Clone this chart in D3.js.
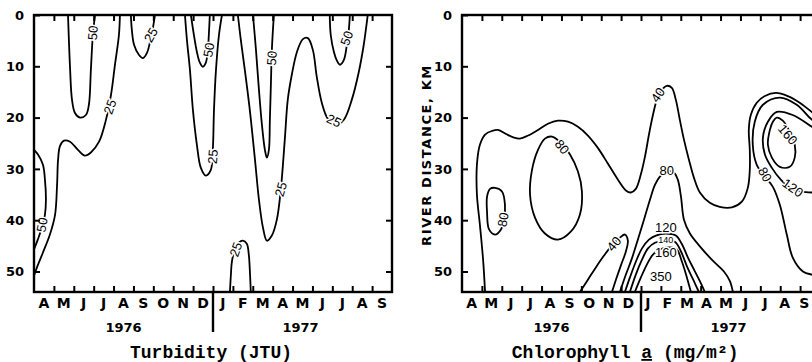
<!DOCTYPE html>
<html>
<head>
<meta charset="utf-8">
<script src="https://cdn.jsdelivr.net/npm/d3@7"></script>
<style>
  html, body { margin: 0; padding: 0; background: #fff; }
  svg { display: block; }
</style>
</head>
<body>
<svg id="chart" width="812" height="362"></svg>
<script>
// months April 1976 .. September 1977
const months = ['A','M','J','J','A','S','O','N','D','J','F','M','A','M','J','J','A','S'];
const depthTicks = [0, 10, 20, 30, 40, 50];
const maxDepth = 54;
const yearLabels = [{ text: '1976', m: 4.5 }, { text: '1977', m: 13.4 }];
const yearBreak = 9; // between D and J

// contour lines, points are [month index, river km]
const turbidityLines = [
  { level: 50, pts: [[1.71,0],[1.81,10.1],[1.91,16.5],[2.06,19.1],[2.31,20.0],[2.61,19.5],[2.76,17.5],[2.86,10.7],[2.96,3.9],[3.07,0]] },
  { level: 25, pts: [[4.32,0],[4.27,3.9],[4.07,9.7],[3.87,15.6],[3.62,20.4],[3.27,24.7],[2.86,26.8],[2.56,27.4],[2.21,26.3],[1.81,24.7],[1.51,24.5],[1.31,25.5],[1.21,28.2],[1.16,33.1],[1.06,38.9],[0.80,42.8],[0.45,46.3],[0.15,49.2],[0,50.8]] },
  { level: 50, pts: [[0,26.3],[0.2,27.2],[0.45,29.2],[0.55,32.1],[0.6,36],[0.55,38.9],[0.4,41.4],[0.2,43.7],[0,45.7]] },
  { level: 25, pts: [[4.87,0],[4.92,2.9],[5.03,5.8],[5.28,7.8],[5.48,8.4],[5.68,7.4],[5.83,5.3],[5.98,2.5],[6.08,0]] },
  { level: 25, pts: [[7.59,0],[7.69,4.9],[7.84,10.7],[7.99,18.5],[8.19,25.3],[8.39,29.8],[8.64,31.3],[8.89,30.2],[8.99,26.3],[9.05,18.5],[9.15,10.7],[9.30,3.9],[9.45,0]] },
  { level: 50, pts: [[7.89,0],[8.04,3.9],[8.19,7.2],[8.34,9.3],[8.49,10.1],[8.64,9.3],[8.74,6.8],[8.79,3.9],[8.84,0]] },
  { level: 25, pts: [[10.25,0],[10.40,4.9],[10.60,10.7],[10.85,18.5],[11.11,28.2],[11.31,36.0],[11.51,41.4],[11.71,44.0],[11.96,43.0],[12.21,39.9],[12.41,34.0],[12.61,24.3],[12.76,16.5],[12.96,11.7],[13.22,7.2],[13.52,4.7],[13.77,4.5],[14.02,6.8],[14.22,12.1],[14.47,17.1],[14.77,20.2],[15.18,21.4],[15.58,20.4],[15.98,16.5],[16.33,11.1],[16.58,5.8],[16.78,0]] },
  { level: 50, pts: [[11.01,0],[11.16,6.8],[11.31,14.6],[11.46,21.4],[11.61,26.3],[11.71,27.8],[11.81,26.3],[11.86,20.4],[11.91,13.6],[11.96,6.8],[12.06,0]] },
  { level: 50, pts: [[14.87,0],[14.92,3.9],[15.08,7.2],[15.23,8.9],[15.38,9.7],[15.58,8.75],[15.73,5.8],[15.83,2.9],[15.88,0]] },
  { level: 25, pts: [[9.85,54],[9.90,50.6],[9.95,48.1],[10.10,45.7],[10.30,44.4],[10.50,44.0],[10.70,44.6],[10.80,46.7],[10.85,49.6],[10.90,54]] }
];

const turbidityLabels = [
  { text: '50', m: 2.96, km: 3.5, rot: -85 },
  { text: '25', m: 3.82, km: 17.9, rot: -70 },
  { text: '25', m: 5.88, km: 3.9, rot: -60 },
  { text: '50', m: 0.40, km: 40.9, rot: -80 },
  { text: '50', m: 8.79, km: 6.8, rot: -80 },
  { text: '25', m: 8.99, km: 27.6, rot: -85 },
  { text: '50', m: 11.96, km: 8.4, rot: -85 },
  { text: '25', m: 12.41, km: 34.0, rot: -75 },
  { text: '25', m: 15.08, km: 20.6, rot: 25 },
  { text: '50', m: 15.73, km: 4.5, rot: -70 },
  { text: '25', m: 10.15, km: 45.7, rot: -70 }
];

const chlorophyllLines = [
  { level: 40, pts: [[1.16,54],[1.06,47.7],[0.90,40.9],[0.75,35.0],[0.75,29.2],[0.90,25.3],[1.16,23.3],[1.51,22.6],[1.81,22.4],[2.21,23.2],[2.61,23.9],[2.91,24.1],[3.32,23.5],[3.82,22.4],[4.32,21.2],[4.82,20.6],[5.33,20.8],[5.83,21.8],[6.33,23.5],[6.83,25.9],[7.34,29.0],[7.84,32.1],[8.24,34.2],[8.49,34.6],[8.74,33.9],[8.99,31.1],[9.20,27.6],[9.40,23.3],[9.60,19.5],[9.80,16.5],[10.05,14.6],[10.30,13.8],[10.55,14.2],[10.75,16.5],[10.95,20.4],[11.16,24.3],[11.41,28.2],[11.66,31.7],[11.96,34.6],[12.46,36.6],[12.96,37.4],[13.57,37.5],[14.07,36.4],[14.37,33.7],[14.47,30.2],[14.47,26.3],[14.42,22.4],[14.52,19.5],[14.82,17.1],[15.23,15.8],[15.78,15.2],[16.38,15.8],[16.98,17.1],[17.59,18.9],[18.1,20.2]] },
  { level: 80, closed: true, pts: [[1.66,33.7],[2.01,34.4],[2.16,37.0],[2.11,39.9],[1.96,41.8],[1.66,42.8],[1.36,41.8],[1.26,38.5],[1.26,35.4],[1.41,33.9]] },
  { level: 80, closed: true, pts: [[4.52,23.7],[4.92,24.7],[5.43,27.2],[5.83,30.5],[6.03,34.4],[5.93,38.9],[5.48,42.2],[4.82,43.8],[4.17,42.6],[3.67,39.5],[3.42,35.0],[3.52,30.2],[3.82,26.3],[4.17,24.1]] },
  { level: 40, pts: [[5.93,54],[6.33,51.6],[6.73,49.2],[7.14,46.9],[7.54,44.9],[7.94,43.4],[8.19,42.8],[8.34,44.0],[8.24,46.1],[7.99,48.8],[7.74,51.6],[7.54,54]] },
  { level: 80, pts: [[7.94,54],[8.24,50.6],[8.54,47.5],[8.84,43.8],[9.15,39.9],[9.45,36.0],[9.70,33.1],[9.95,31.5],[10.30,30.5],[10.65,30.7],[10.85,32.1],[11.01,35.4],[11.16,39.9],[11.46,42.6],[11.96,45.1],[12.61,47.9],[13.17,50.0],[13.47,51.9],[13.62,54]] },
  { level: 120, pts: [[8.19,54],[8.44,51.2],[8.74,48.1],[9.05,45.5],[9.40,43.8],[9.75,43.0],[10.25,42.6],[10.75,43.0],[11.06,44.7],[11.36,47.3],[11.66,49.6],[11.96,51.9],[12.21,54]] },
  { level: 140, pts: [[8.44,54],[8.74,50.6],[9.05,47.7],[9.35,45.5],[9.70,44.4],[10.20,44.0],[10.70,44.2],[11.01,46.1],[11.31,49.0],[11.66,51.9],[11.91,54]] },
  { level: 160, pts: [[8.69,54],[8.99,51.2],[9.30,48.6],[9.60,46.7],[9.95,45.7],[10.45,45.3],[10.80,45.7],[11.06,48.1],[11.31,51.2],[11.51,54]] },
  { level: 80, pts: [[18.1,21.6],[17.59,20.4],[16.83,17.5],[15.98,16.1],[15.13,17.5],[14.72,20.8],[14.62,25.3],[14.82,29.2],[15.23,31.5],[15.63,33.5],[15.98,37.0],[16.33,42.8],[16.63,47.3],[17.14,50.0],[17.59,50.6],[18.1,50.8]] },
  { level: 120, pts: [[18.1,23.2],[17.59,21.8],[16.63,19.5],[15.83,18.9],[15.38,20.8],[15.13,23.9],[15.23,27.2],[15.58,29.8],[16.03,32.1],[16.48,33.7],[16.98,34.4],[17.59,34.6],[18.1,34.7]] },
  { level: 160, closed: true, pts: [[15.83,20.0],[16.13,20.6],[16.43,22.4],[16.73,25.3],[16.73,27.8],[16.48,29.6],[15.98,29.6],[15.58,27.8],[15.38,25.3],[15.48,22.4],[15.63,20.8]] }
];

const chlorophyllLabels = [
  { text: '40', m: 9.85, km: 15.6, rot: -55 },
  { text: '80', m: 5.03, km: 25.7, rot: 50 },
  { text: '80', m: 2.06, km: 39.9, rot: -80 },
  { text: '40', m: 7.64, km: 44.6, rot: -50 },
  { text: '80', m: 10.30, km: 30.3, rot: 0 },
  { text: '120', m: 10.25, km: 41.4, rot: 0 },
  { text: '140', m: 10.25, km: 43.8, rot: 0, small: true },
  { text: '160', m: 10.25, km: 46.3, rot: 0 },
  { text: '350', m: 10.0, km: 51.0, rot: 0 },
  { text: '160', m: 16.38, km: 23.3, rot: 50 },
  { text: '80', m: 15.23, km: 31.1, rot: 60 },
  { text: '120', m: 16.63, km: 33.7, rot: 35 }
];

const svg = d3.select('#chart');
const sansBold = "'DejaVu Sans', 'Liberation Sans', sans-serif";
const labelFont = "'Liberation Sans', Arial, sans-serif";
const typeFont = "'Liberation Mono', 'Courier New', monospace";

const y = d3.scaleLinear().domain([0, maxDepth]).range([15, 292]);

function drawPanel(cfg) {
  const x = d3.scaleLinear().domain([0, months.length]).range([cfg.left, cfg.left + 358]);
  // month letters sit a little tighter on the right panel so the last one stays in view
  const band = d3.scaleBand().domain(d3.range(months.length)).range([cfg.left, cfg.left + cfg.labelWidth]);
  const g = svg.append('g').attr('class', 'panel-' + cfg.id);

  // clip contours to the plot area
  svg.append('clipPath').attr('id', 'clip-' + cfg.id)
    .append('rect')
    .attr('x', x(0)).attr('y', y(0))
    .attr('width', x(months.length) - x(0))
    .attr('height', y(maxDepth) - y(0));

  const line = d3.line()
    .x(d => x(d[0]))
    .y(d => y(d[1]))
    .curve(d3.curveCatmullRom.alpha(0.5));
  const closedLine = d3.line()
    .x(d => x(d[0]))
    .y(d => y(d[1]))
    .curve(d3.curveCatmullRomClosed.alpha(0.5));

  const plot = g.append('g').attr('clip-path', `url(#clip-${cfg.id})`);
  plot.selectAll('path.contour')
    .data(cfg.lines)
    .enter()
    .append('path')
    .attr('class', 'contour')
    .attr('d', d => (d.closed ? closedLine : line)(d.pts))
    .attr('fill', 'none')
    .attr('stroke', '#000')
    .attr('stroke-width', 1.8)
    .attr('stroke-linejoin', 'round');

  // contour labels with white halo to break the line
  plot.selectAll('text.clabel')
    .data(cfg.labels)
    .enter()
    .append('text')
    .attr('class', 'clabel')
    .attr('transform', d => `translate(${x(d.m)},${y(d.km)}) rotate(${d.rot})`)
    .attr('text-anchor', 'middle')
    .attr('dominant-baseline', 'central')
    .attr('font-family', labelFont)
    .attr('font-size', d => d.small ? 9 : 13)
    .attr('fill', '#000')
    .attr('stroke', '#fff')
    .attr('stroke-width', 3)
    .attr('paint-order', 'stroke')
    .text(d => d.text);

  // frame
  g.append('rect')
    .attr('x', x(0)).attr('y', y(0))
    .attr('width', x(months.length) - x(0))
    .attr('height', y(maxDepth) - y(0))
    .attr('fill', 'none')
    .attr('stroke', '#000')
    .attr('stroke-width', 2.4);

  // month boundary ticks, pointing inward
  const bounds = d3.range(1, months.length);
  g.append('g')
    .attr('transform', `translate(0,${y(maxDepth)})`)
    .call(d3.axisBottom(x).tickValues(bounds).tickSize(-6).tickFormat(''))
    .call(a => a.select('.domain').remove())
    .call(a => a.selectAll('.tick line').attr('stroke-width', 2));
  g.append('g')
    .attr('transform', `translate(0,${y(0)})`)
    .call(d3.axisTop(x).tickValues(bounds).tickSize(-6).tickFormat(''))
    .call(a => a.select('.domain').remove())
    .call(a => a.selectAll('.tick line').attr('stroke-width', 2));

  // depth axis
  g.append('g')
    .attr('transform', `translate(${x(0)},0)`)
    .call(d3.axisLeft(y).tickValues(depthTicks).tickSize(-6).tickPadding(10))
    .call(a => a.select('.domain').remove())
    .call(a => a.selectAll('.tick line').attr('stroke-width', 2))
    .call(a => a.selectAll('.tick text')
      .attr('font-family', sansBold)
      .attr('font-weight', 'bold')
      .attr('font-size', 13)
      .attr('fill', '#000'));
  g.append('g')
    .attr('transform', `translate(${x(months.length)},0)`)
    .call(d3.axisRight(y).tickValues(depthTicks.slice(1)).tickSize(-6).tickFormat(''))
    .call(a => a.select('.domain').remove())
    .call(a => a.selectAll('.tick line').attr('stroke-width', 2));

  // month letters
  g.append('g')
    .attr('transform', `translate(0,${y(maxDepth)})`)
    .call(d3.axisBottom(band).tickSize(0).tickPadding(6).tickFormat(i => months[i]))
    .call(a => a.select('.domain').remove())
    .call(a => a.selectAll('.tick text')
      .attr('font-family', sansBold)
      .attr('font-weight', 'bold')
      .attr('font-size', 14)
      .attr('fill', '#000'));

  // year split marker
  g.append('line')
    .attr('x1', x(yearBreak)).attr('x2', x(yearBreak))
    .attr('y1', y(maxDepth)).attr('y2', y(maxDepth) + 40)
    .attr('stroke', '#000')
    .attr('stroke-width', 2.4);

  g.selectAll('text.year')
    .data(yearLabels)
    .enter()
    .append('text')
    .attr('class', 'year')
    .attr('x', d => x(d.m))
    .attr('y', 332)
    .attr('text-anchor', 'middle')
    .attr('font-family', sansBold)
    .attr('font-weight', 'bold')
    .attr('font-size', 13)
    .text(d => d.text);

  // title
  const t = g.append('text')
    .attr('x', x(cfg.titleAt))
    .attr('y', 358)
    .attr('text-anchor', 'middle')
    .attr('font-family', typeFont)
    .attr('font-weight', 'bold')
    .attr('font-size', 18);
  cfg.title(t);

  if (cfg.yTitle) {
    g.append('text')
      .attr('transform', `translate(${cfg.left - 36},${155}) rotate(-90)`)
      .attr('text-anchor', 'middle')
      .attr('dominant-baseline', 'central')
      .attr('font-family', sansBold)
      .attr('font-weight', 'bold')
      .attr('font-size', 13)
      .attr('letter-spacing', 1.6)
      .text(cfg.yTitle);
  }
}

drawPanel({
  id: 'turb',
  left: 34,
  labelWidth: 358,
  lines: turbidityLines,
  labels: turbidityLabels,
  titleAt: 8.9,
  title: t => t.text('Turbidity (JTU)')
});

drawPanel({
  id: 'chl',
  left: 462,
  labelWidth: 352,
  lines: chlorophyllLines,
  labels: chlorophyllLabels,
  titleAt: 8.2,
  yTitle: 'RIVER DISTANCE, KM',
  title: t => {
    t.append('tspan').text('Chlorophyll ');
    t.append('tspan').attr('text-decoration', 'underline').text('a');
    t.append('tspan').text(' (mg/m²)');
  }
});
</script>
</body>
</html>
